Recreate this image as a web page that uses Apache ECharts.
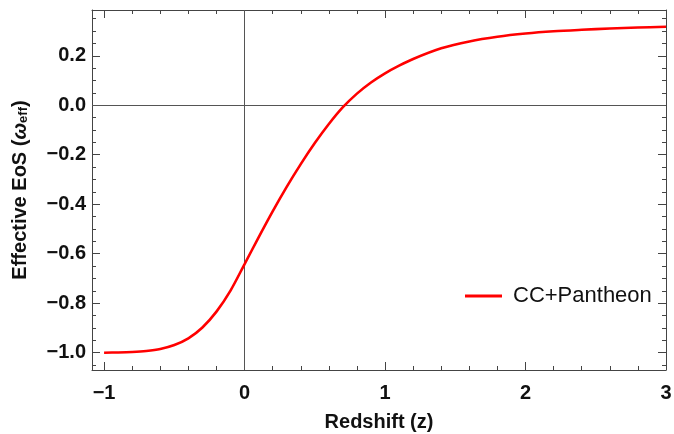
<!DOCTYPE html>
<html>
<head>
<meta charset="utf-8">
<title>Effective EoS</title>
<script src="https://cdn.jsdelivr.net/npm/echarts@6/dist/echarts.min.js"></script>
<style>
  html, body { margin: 0; padding: 0; background: #fff; }
  #chart { width: 674px; height: 434px; }
</style>
</head>
<body>
<div id="chart"></div>
<script>
// redshift grid and effective EoS
var zVals = [-1, -0.9, -0.8, -0.7, -0.6, -0.5, -0.4, -0.3, -0.2, -0.1, 0,
  0.1, 0.2, 0.3, 0.4, 0.5, 0.6, 0.7, 0.8, 0.9, 1.0, 1.1,
  1.2, 1.4, 1.6, 1.8, 2.0, 2.2, 2.4, 2.6, 2.8, 3.0]
var wVals = [-1.000, -0.999, -0.997, -0.993, -0.985, -0.969, -0.942, -0.898, -0.834, -0.749, -0.642,
  -0.534, -0.429, -0.330, -0.238, -0.153, -0.076, -0.008, 0.047, 0.092, 0.129, 0.160,
  0.187, 0.230, 0.258, 0.277, 0.290, 0.299, 0.305, 0.310, 0.314, 0.317]
var seriesName = 'CC+Pantheon'

// frame ticks
var xTicks = [-1, 0, 1, 2, 3]
var yTicks = [-1.0, -0.8, -0.6, -0.4, -0.2, 0.0, 0.2]
var xMinor = []
for (var i = -5; i <= 15; i++) xMinor.push(i / 5)
var yMinor = []
for (var j = -21; j <= 7; j++) yMinor.push(j / 20)

var X_MIN = -1.086, X_MAX = 3.0
var Y_MIN = -1.07, Y_MAX = 0.385

var FONT = '"Liberation Sans", Arial, sans-serif'
var frameColor = '#444'

function fmt(v, digits) {
  var s = Math.abs(v).toFixed(digits)
  return v < -1e-9 ? '\u2212' + s : s
}

function xAxisOf(gridIndex, position, ticks, len, main) {
  return {
    type: 'value',
    gridIndex: gridIndex,
    position: position,
    min: X_MIN,
    max: X_MAX,
    name: main ? 'Redshift (z)' : '',
    nameLocation: 'middle',
    nameGap: 42,
    nameTextStyle: { fontFamily: FONT, fontSize: 20, fontWeight: 'bold', color: '#111' },
    axisLine: { show: gridIndex === 0, onZero: false, lineStyle: { color: frameColor, width: 1 } },
    axisTick: { show: true, inside: true, length: len, customValues: ticks, lineStyle: { color: frameColor, width: 1 } },
    axisLabel: {
      show: main,
      customValues: ticks,
      margin: 13,
      fontFamily: FONT,
      fontSize: 20,
      fontWeight: 'bold',
      color: '#111',
      formatter: function (v) { return fmt(v, 0) }
    },
    splitLine: { show: false }
  }
}

function yAxisOf(gridIndex, position, ticks, len, main) {
  return {
    type: 'value',
    gridIndex: gridIndex,
    position: position,
    min: Y_MIN,
    max: Y_MAX,
    name: main ? 'Effective EoS ({w|\u03c9}{s|eff})' : '',
    nameLocation: 'middle',
    nameGap: 62,
    nameTextStyle: {
      fontFamily: FONT, fontSize: 20, fontWeight: 'bold', color: '#111',
      rich: {
        w: { fontFamily: FONT, fontSize: 20, fontStyle: 'italic', fontWeight: 'bold', color: '#111' },
        s: { fontFamily: FONT, fontSize: 13, fontWeight: 'bold', color: '#111', verticalAlign: 'bottom', lineHeight: 12 }
      }
    },
    axisLine: { show: gridIndex === 0, onZero: false, lineStyle: { color: frameColor, width: 1 } },
    axisTick: { show: true, inside: true, length: len, customValues: ticks, lineStyle: { color: frameColor, width: 1 } },
    axisLabel: {
      show: main,
      customValues: ticks,
      margin: 6,
      fontFamily: FONT,
      fontSize: 20,
      fontWeight: 'bold',
      color: '#111',
      formatter: function (v) { return fmt(v, 1) }
    },
    splitLine: { show: false }
  }
}

var grid = { left: 92, right: 8, top: 10, bottom: 64, outerBoundsMode: 'none' }

var chart = echarts.init(document.getElementById('chart'), null, { renderer: 'canvas' })
chart.setOption({
  animation: false,
  backgroundColor: '#fff',
  grid: [grid, grid],
  xAxis: [
    xAxisOf(0, 'bottom', xTicks, 8, true),
    xAxisOf(0, 'top', xTicks, 8, false),
    xAxisOf(1, 'bottom', xMinor, 4, false),
    xAxisOf(1, 'top', xMinor, 4, false)
  ],
  yAxis: [
    yAxisOf(0, 'left', yTicks, 8, true),
    yAxisOf(0, 'right', yTicks, 8, false),
    yAxisOf(1, 'left', yMinor, 4, false),
    yAxisOf(1, 'right', yMinor, 4, false)
  ],
  legend: {
    left: 465,
    top: 285,
    padding: 0,
    icon: 'rect',
    itemWidth: 37,
    itemHeight: 3,
    data: [seriesName],
    textStyle: { fontFamily: FONT, fontSize: 22, color: '#111', padding: [0, 0, 0, 6] }
  },
  series: [{
    name: seriesName,
    type: 'line',
    xAxisIndex: 0,
    yAxisIndex: 0,
    data: zVals.map(function (z, k) { return [z, wVals[k]] }),
    smooth: 0.3,
    symbol: 'none',
    color: '#ff0000',
    lineStyle: { color: '#ff0000', width: 2.6 },
    z: 3,
    markLine: {
      silent: true,
      symbol: 'none',
      z: 1,
      label: { show: false },
      lineStyle: { color: '#555', width: 1, type: 'solid' },
      data: [{ xAxis: 0 }, { yAxis: 0 }]
    }
  }]
})
</script>
</body>
</html>
